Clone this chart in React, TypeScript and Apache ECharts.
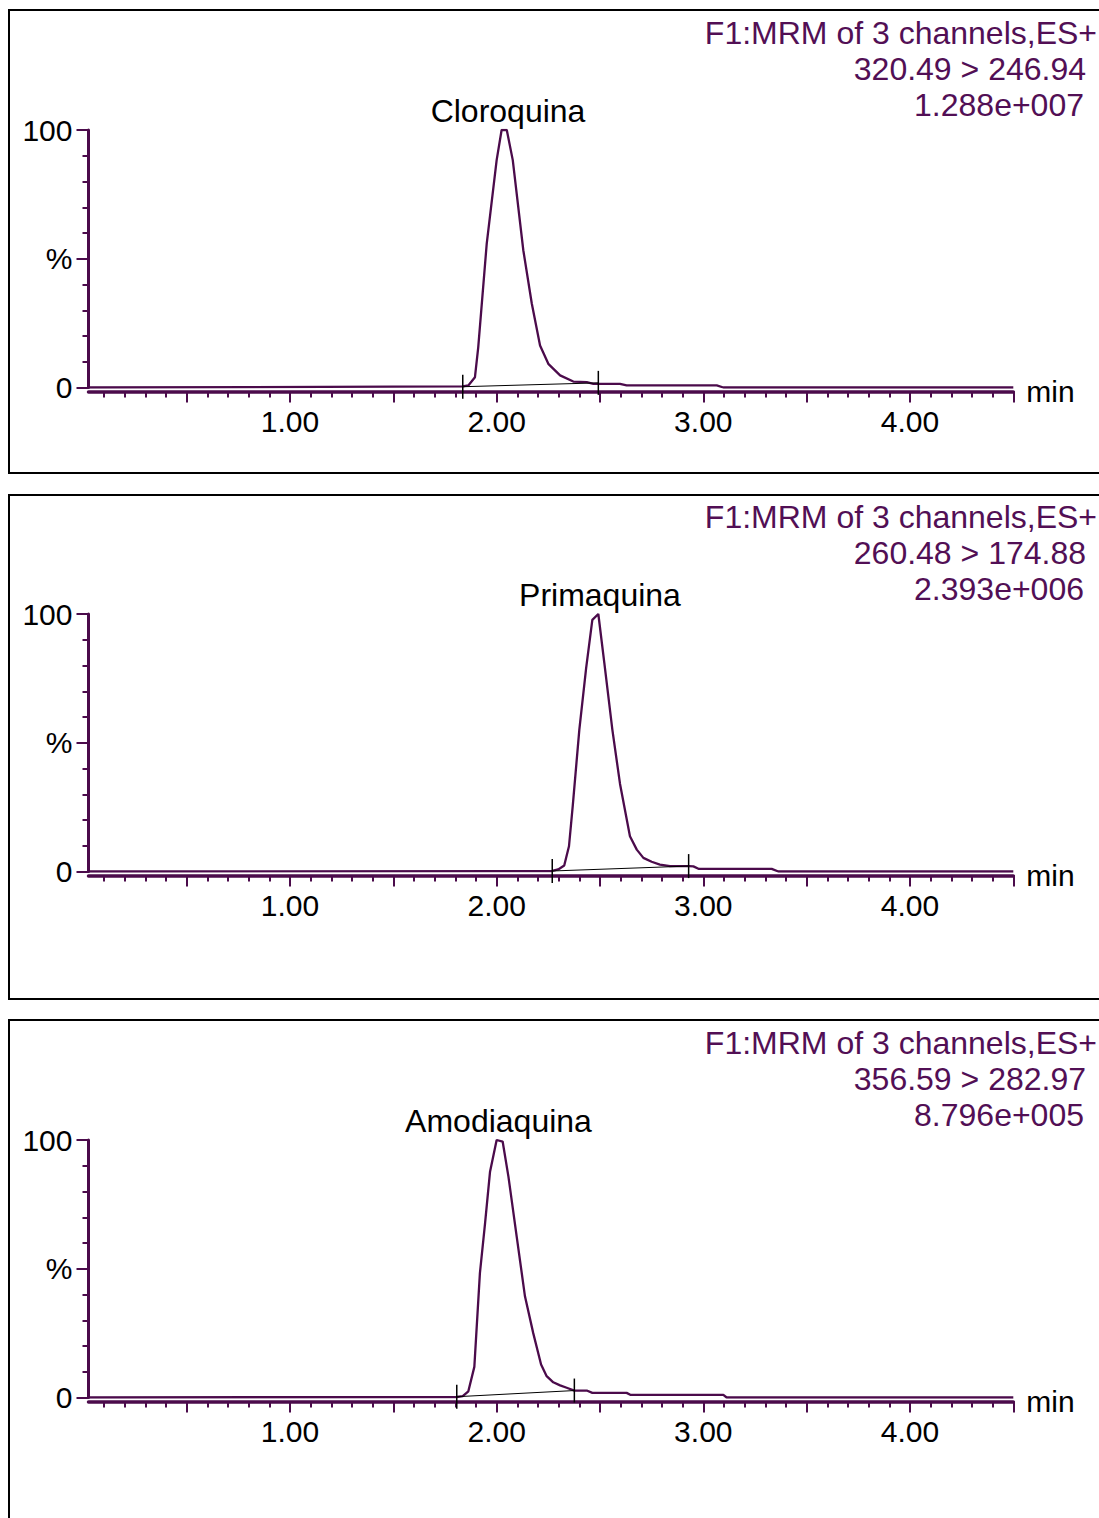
import React, { useEffect, useRef } from "react";
import * as echarts from "echarts";

// ---------- data ----------
const panelNames = ["Cloroquina", "Primaquina", "Amodiaquina"];
const headerLine = "F1:MRM of 3 channels,ES+";
const transitions = ["320.49 > 246.94", "260.48 > 174.88", "356.59 > 282.97"];
const intensities = ["1.288e+007", "2.393e+006", "8.796e+005"];

const X_MIN = 0.025;
const X_MAX = 4.5;
const xLabelValues = [1, 2, 3, 4];
const xMajorTickValues = [0.5, 1, 1.5, 2, 2.5, 3, 3.5, 4, 4.5];
const yLabelMap: Record<number, string> = { 0: "0", 50: "%", 100: "100" };

const cloroquinaTrace: number[][] = [
  [0.025, 0], [1.836, 0.4], [1.863, 0.8], [1.895, 4.0], [1.911, 15.7],
  [1.952, 55.9], [2.0, 88.3], [2.024, 100], [2.049, 100], [2.078, 88.3],
  [2.129, 53.3], [2.17, 32.6], [2.21, 16.3], [2.25, 9.2], [2.307, 4.7],
  [2.371, 2.3], [2.436, 2.1], [2.468, 1.4], [2.597, 1.4], [2.629, 0.8],
  [3.065, 0.8], [3.097, 0], [4.5, 0],
];
const primaquinaTrace: number[][] = [
  [0.025, 0], [2.269, 0.2], [2.298, 0.8], [2.327, 2.3], [2.35, 9.8],
  [2.368, 25.3], [2.4, 55], [2.433, 79], [2.463, 97.7], [2.492, 100],
  [2.521, 81], [2.56, 55], [2.597, 34], [2.645, 13.7], [2.678, 8.5],
  [2.71, 5.3], [2.75, 3.8], [2.79, 2.7], [2.839, 2.1], [2.931, 2.1],
  [2.952, 2.0], [2.979, 1.0], [3.331, 1.0], [3.363, 0], [4.5, 0],
];
const amodiaquinaTrace: number[][] = [
  [0.025, 0], [1.807, 0.2], [1.836, 0.5], [1.863, 2.4], [1.892, 11.9],
  [1.919, 48.3], [1.944, 67.7], [1.968, 87.7], [2.0, 100], [2.029, 99.4],
  [2.057, 85.8], [2.097, 62.5], [2.137, 39.3], [2.177, 25], [2.215, 12.8],
  [2.242, 8.3], [2.274, 5.9], [2.307, 4.7], [2.339, 3.8], [2.376, 2.7],
  [2.436, 2.7], [2.463, 1.8], [2.629, 1.8], [2.649, 1.0], [3.097, 1.0],
  [3.113, 0], [4.5, 0],
];
const traces = [cloroquinaTrace, primaquinaTrace, amodiaquinaTrace];

// integration baselines: [start, end]
const cloroquinaBaseline = [[1.836, 0.3], [2.492, 1.8]];
const primaquinaBaseline = [[2.269, 0.2], [2.929, 2.1]];
const amodiaquinaBaseline = [[1.807, 0.3], [2.376, 2.7]];
const baselines = [cloroquinaBaseline, primaquinaBaseline, amodiaquinaBaseline];

// position (min) of the peak labels
const labelTimes = [2.055, 2.5, 2.009];

// ---------- layout ----------
const PURPLE = "#4b0b4b";
const TEXT_PURPLE = "#520f55";
const FONT = "'Liberation Sans', Arial, Helvetica, sans-serif";
const panelOffsets = [0, 484, 1010];
const borderTops = [10, 495, 1020];
const borderHeights = [463, 504, 620];

function buildMinorTicks(): number[] {
  const out: number[] = [];
  for (let i = 1; i <= 45; i++) out.push(Math.round(i * 10) / 100);
  return out;
}

export default function App() {
  const ref = useRef<HTMLDivElement>(null);

  useEffect(() => {
    if (!ref.current) return;
    const chart = echarts.init(ref.current, null, { renderer: "svg" });
    const minorTicks = buildMinorTicks();

    const grids: any[] = [];
    const xAxes: any[] = [];
    const yAxes: any[] = [];
    const series: any[] = [];
    const graphics: any[] = [];

    panelOffsets.forEach((off, i) => {
      grids.push({ left: 88.5, top: 130 + off, width: 924.8, height: 257.5 });
      xAxes.push({
        gridIndex: i,
        type: "value",
        min: X_MIN,
        max: X_MAX,
        position: "bottom",
        offset: 4,
        axisLine: { show: true, onZero: false, lineStyle: { color: PURPLE, width: 3.5 } },
        axisTick: { show: true, customValues: minorTicks, length: 6, lineStyle: { color: PURPLE, width: 2 } },
        axisLabel: {
          show: true,
          customValues: xLabelValues,
          formatter: (v: number) => v.toFixed(2),
          fontSize: 30,
          color: "#000",
          fontFamily: FONT,
          margin: 15,
        },
        splitLine: { show: false },
        name: "min",
        nameLocation: "end",
        nameGap: 13,
        nameTextStyle: { fontSize: 30, color: "#000", fontFamily: FONT },
      });
      xAxes.push({
        gridIndex: i,
        type: "value",
        min: X_MIN,
        max: X_MAX,
        position: "bottom",
        offset: 4,
        axisLine: { show: false, onZero: false },
        axisTick: { show: true, customValues: xMajorTickValues, length: 11, lineStyle: { color: PURPLE, width: 2 } },
        axisLabel: { show: false },
        splitLine: { show: false },
      });
      yAxes.push({
        gridIndex: i,
        type: "value",
        min: 0,
        max: 100,
        interval: 50,
        axisLine: { show: true, onZero: false, lineStyle: { color: PURPLE, width: 3 } },
        axisTick: { show: true, length: 12, lineStyle: { color: PURPLE, width: 2 } },
        minorTick: { show: true, splitNumber: 5, length: 6, lineStyle: { color: PURPLE, width: 2 } },
        axisLabel: {
          formatter: (v: number) => yLabelMap[v] ?? "",
          fontSize: 30,
          color: "#000",
          fontFamily: FONT,
          margin: 16,
        },
        splitLine: { show: false },
        minorSplitLine: { show: false },
      });

      series.push({
        type: "line",
        xAxisIndex: 2 * i,
        yAxisIndex: i,
        data: traces[i],
        symbol: "none",
        lineStyle: { color: PURPLE, width: 2.3 },
        z: 3,
      });
      series.push({
        type: "line",
        xAxisIndex: 2 * i,
        yAxisIndex: i,
        data: baselines[i],
        symbol: "none",
        lineStyle: { color: "#000", width: 1 },
        z: 4,
      });
      series.push({
        type: "scatter",
        xAxisIndex: 2 * i,
        yAxisIndex: i,
        data: baselines[i],
        symbol: "rect",
        symbolSize: [1.5, 24],
        itemStyle: { color: "#000", opacity: 1 },
        z: 5,
      });
      series.push({
        type: "scatter",
        xAxisIndex: 2 * i,
        yAxisIndex: i,
        data: [[labelTimes[i], 100]],
        symbolSize: 1,
        itemStyle: { color: "rgba(0,0,0,0)", opacity: 1 },
        label: {
          show: true,
          position: "top",
          distance: 3,
          formatter: () => panelNames[i],
          fontSize: 32,
          color: "#000",
          opacity: 1,
          fontFamily: FONT,
        },
        z: 6,
      });

      graphics.push({
        type: "rect",
        shape: { x: 9, y: borderTops[i], width: 1200, height: borderHeights[i] },
        style: { fill: "none", stroke: "#000", lineWidth: 2 },
        silent: true,
      });
      const lines = [
        { t: headerLine, x: 1097, y: 33 + off },
        { t: transitions[i], x: 1086, y: 69 + off },
        { t: intensities[i], x: 1084, y: 105 + off },
      ];
      lines.forEach((l) => {
        graphics.push({
          type: "text",
          x: l.x,
          y: l.y,
          style: {
            text: l.t,
            fill: TEXT_PURPLE,
            fontSize: 32,
            fontFamily: FONT,
            align: "right",
            verticalAlign: "middle",
            textAlign: "right",
            textVerticalAlign: "middle",
          },
          silent: true,
        });
      });
    });

    chart.setOption({
      animation: false,
      backgroundColor: "#fff",
      grid: grids,
      xAxis: xAxes,
      yAxis: yAxes,
      series,
      graphic: graphics,
    });

    return () => chart.dispose();
  }, []);

  return (
    <div
      ref={ref}
      style={{ position: "fixed", left: 0, top: 0, width: 1099, height: 1518, background: "#fff" }}
    />
  );
}
